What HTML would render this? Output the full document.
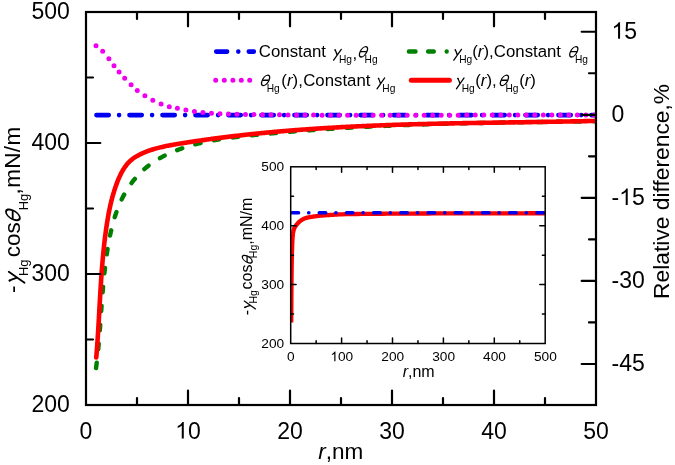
<!DOCTYPE html>
<html><head><meta charset="utf-8"><style>
html,body{margin:0;padding:0;background:#fff;width:675px;height:465px;overflow:hidden}
svg{display:block;will-change:transform}
text{font-family:"Liberation Sans",sans-serif}
</style></head><body>
<svg width="675" height="465" viewBox="0 0 675 465">
<defs><clipPath id="cm"><rect x="86.0" y="12.0" width="510.0" height="393.0"/></clipPath>
<clipPath id="ci"><rect x="290.7" y="166.8" width="254.5" height="176.7"/></clipPath></defs>
<rect width="675" height="465" fill="#fff"/>
<g clip-path="url(#cm)" fill="none" stroke-linecap="round" stroke-linejoin="round">
<path d="M96.45,115.10 H596" stroke="#0000f0" stroke-width="4.6" stroke-dasharray="12.3 10.35 0 10.35"/>
<path d="M96.00,45.70h0M102.70,51.30h0M108.90,58.70h0M114.00,65.70h0M119.10,72.00h0M124.70,78.30h0M131.10,84.70h0M137.30,90.40h0M144.90,95.70h0M152.80,100.20h0M161.10,104.00h0M169.30,106.70h0M177.40,108.32h0M185.91,110.11h0M194.42,111.49h0M202.93,112.52h0M211.44,113.25h0M219.95,113.76h0M228.46,114.08h0M236.97,114.28h0M245.48,114.42h0M253.99,114.54h0M262.50,114.65h0M271.01,114.75h0M279.52,114.84h0M288.03,114.92h0M296.54,114.98h0M305.05,115.04h0M313.56,115.09h0M322.07,115.14h0M330.58,115.17h0M339.09,115.20h0M347.60,115.23h0M356.11,115.24h0M364.62,115.25h0M373.13,115.26h0M381.64,115.26h0M390.15,115.26h0M398.66,115.25h0M407.17,115.24h0M415.68,115.23h0M424.19,115.21h0M432.70,115.20h0M441.21,115.18h0M449.72,115.16h0M458.23,115.14h0M466.74,115.12h0M475.25,115.10h0M483.76,115.08h0M492.27,115.06h0M500.78,115.04h0M509.29,115.03h0M517.80,115.02h0M526.31,115.01h0M534.82,115.00h0M543.33,115.00h0M551.84,115.01h0M560.35,115.01h0M568.86,115.03h0M577.37,115.05h0M585.88,115.07h0M594.39,115.10h0" stroke="#f000f0" stroke-width="5"/>
<path d="M96.03,368.11 L96.16,367.11 L96.29,366.12 L96.42,365.12 L96.55,364.13 L96.67,363.13 L96.80,362.14 L96.92,361.14 L97.03,360.15 L97.15,359.15 L97.26,358.16 L97.37,357.17 L97.48,356.17 L97.59,355.18 L97.70,354.19 L97.80,353.19 L97.91,352.20 L98.01,351.21 L98.11,350.21 L98.21,349.22 L98.30,348.23 L98.40,347.24 L98.49,346.24 L98.59,345.25 L98.68,344.26 L98.77,343.27 L98.85,342.27 L98.94,341.28 L99.03,340.29 L99.11,339.30 L99.20,338.31 L99.28,337.32 L99.36,336.32 L99.44,335.33 L99.52,334.34 L99.60,333.35 L99.68,332.36 L99.76,331.37 L99.83,330.38 L99.91,329.38 L99.98,328.39 L100.06,327.40 L100.13,326.41 L100.21,325.42 L100.28,324.43 L100.35,323.44 L100.42,322.45 L100.50,321.45 L100.57,320.46 L100.64,319.47 L100.71,318.48 L100.78,317.49 L100.85,316.50 L100.92,315.51 L100.99,314.51 L101.06,313.52 L101.13,312.53 L101.20,311.54 L101.27,310.55 L101.34,309.56 L101.41,308.56 L101.49,307.57 L101.56,306.58 L101.63,305.59 L101.70,304.60 L101.77,303.60 L101.85,302.61 L101.92,301.62 L101.99,300.63 L102.07,299.63 L102.14,298.64 L102.22,297.65 L102.30,296.65 L102.37,295.66 L102.45,294.67 L102.53,293.67 L102.61,292.68 L102.69,291.68 L102.77,290.69 L102.85,289.70 L102.94,288.70 L103.02,287.71 L103.11,286.71 L103.20,285.72 L103.28,284.72 L103.37,283.73 L103.46,282.73 L103.56,281.73 L103.65,280.74 L103.74,279.74 L103.84,278.74 L103.94,277.75 L104.04,276.75 L104.14,275.75 L104.24,274.76 L104.35,273.76 L104.45,272.76 L104.56,271.76 L104.67,270.76 L104.78,269.76 L104.90,268.76 L105.01,267.76 L105.13,266.76 L105.25,265.76 L105.37,264.76 L105.49,263.76 L105.62,262.76 L105.75,261.76 L105.88,260.76 L106.01,259.76 L106.14,258.75 L106.28,257.75 L106.42,256.75 L106.56,255.74 L106.71,254.74 L106.86,253.74 L107.00,252.73 L107.16,251.73 L107.31,250.72 L107.47,249.71 L107.63,248.71 L107.79,247.70 L107.96,246.70 L108.13,245.69 L108.30,244.68 L108.48,243.68 L108.66,242.67 L108.84,241.67 L109.03,240.66 L109.22,239.66 L109.41,238.65 L109.61,237.65 L109.81,236.65 L110.02,235.65 L110.23,234.65 L110.44,233.65 L110.66,232.65 L110.88,231.66 L111.11,230.66 L111.34,229.67 L111.58,228.68 L111.82,227.69 L112.07,226.70 L112.32,225.71 L112.57,224.73 L112.83,223.75 L113.10,222.77 L113.37,221.79 L113.65,220.81 L113.93,219.84 L114.22,218.87 L114.52,217.90 L114.82,216.94 L115.12,215.98 L115.44,215.02 L115.75,214.06 L116.08,213.11 L116.41,212.16 L116.75,211.21 L117.09,210.27 L117.44,209.33 L117.80,208.40 L118.16,207.46 L118.53,206.54 L118.91,205.61 L119.30,204.69 L119.69,203.78 L120.09,202.86 L120.49,201.96 L120.91,201.05 L121.33,200.15 L121.76,199.26 L122.19,198.37 L122.64,197.48 L123.09,196.60 L123.55,195.73 L124.02,194.86 L124.50,193.99 L124.98,193.13 L125.47,192.28 L125.97,191.43 L126.48,190.59 L127.00,189.75 L127.52,188.92 L128.05,188.09 L128.59,187.27 L129.14,186.46 L129.69,185.65 L130.26,184.85 L130.83,184.05 L131.40,183.26 L131.99,182.48 L132.58,181.70 L133.18,180.93 L133.79,180.17 L134.41,179.41 L135.03,178.66 L135.66,177.92 L136.30,177.18 L136.95,176.46 L137.60,175.73 L138.26,175.02 L138.93,174.32 L139.61,173.62 L140.29,172.93 L140.98,172.24 L141.68,171.57 L142.38,170.90 L143.10,170.24 L143.82,169.59 L144.54,168.95 L145.28,168.32 L146.02,167.69 L146.77,167.07 L147.53,166.46 L148.29,165.86 L149.06,165.27 L149.84,164.69 L150.62,164.11 L151.41,163.54 L152.21,162.98 L153.01,162.43 L153.82,161.89 L154.63,161.35 L155.46,160.83 L156.28,160.31 L157.12,159.79 L157.95,159.29 L158.80,158.79 L159.65,158.30 L160.50,157.82 L161.36,157.34 L162.23,156.87 L163.10,156.41 L163.98,155.96 L164.86,155.51 L165.74,155.07 L166.63,154.63 L167.53,154.21 L168.42,153.79 L169.33,153.37 L170.23,152.97 L171.14,152.57 L172.06,152.17 L172.98,151.79 L173.90,151.41 L174.83,151.03 L175.76,150.66 L176.69,150.30 L177.62,149.94 L178.56,149.59 L179.51,149.25 L180.45,148.91 L181.40,148.57 L182.35,148.25 L183.30,147.92 L184.26,147.61 L185.22,147.30 L186.18,146.99 L187.14,146.69 L188.11,146.40 L189.07,146.11 L190.04,145.82 L191.01,145.54 L191.98,145.27 L192.96,145.00 L193.93,144.73 L194.91,144.47 L195.88,144.22 L196.86,143.97 L197.84,143.72 L198.82,143.48 L199.80,143.24 L200.79,143.01 L201.77,142.78 L202.75,142.56 L203.74,142.34 L204.72,142.12 L205.71,141.91 L206.69,141.70 L207.68,141.50 L208.67,141.30 L209.66,141.10 L210.65,140.91 L211.64,140.72 L212.63,140.53 L213.62,140.35 L214.61,140.17 L215.60,140.00 L216.59,139.82 L217.59,139.65 L218.58,139.49 L219.58,139.32 L220.57,139.16 L221.57,139.01 L222.56,138.85 L223.56,138.70 L224.55,138.55 L225.55,138.41 L226.55,138.26 L227.55,138.12 L228.55,137.98 L229.54,137.85 L230.54,137.71 L231.54,137.58 L232.54,137.45 L233.54,137.32 L234.54,137.20 L235.54,137.08 L236.54,136.95 L237.54,136.83 L238.54,136.72 L239.55,136.60 L240.55,136.48 L241.55,136.37 L242.55,136.26 L243.55,136.15 L244.55,136.04 L245.56,135.93 L246.56,135.82 L247.56,135.72 L248.56,135.61 L249.56,135.51 L250.57,135.41 L251.57,135.31 L252.57,135.20 L253.57,135.10 L254.58,135.00 L255.58,134.90 L256.58,134.81 L257.58,134.71 L258.58,134.61 L259.58,134.51 L260.59,134.42 L261.59,134.32 L262.59,134.22 L263.59,134.13 L264.59,134.03 L265.59,133.94 L266.59,133.85 L267.59,133.75 L268.59,133.66 L269.60,133.57 L270.60,133.48 L271.60,133.39 L272.60,133.30 L273.60,133.21 L274.60,133.12 L275.60,133.03 L276.60,132.94 L277.60,132.85 L278.60,132.76 L279.60,132.68 L280.60,132.59 L281.60,132.50 L282.60,132.42 L283.60,132.33 L284.60,132.25 L285.60,132.16 L286.60,132.08 L287.60,132.00 L288.60,131.91 L289.60,131.83 L290.60,131.75 L291.59,131.67 L292.59,131.59 L293.59,131.51 L294.59,131.43 L295.59,131.35 L296.59,131.27 L297.59,131.19 L298.59,131.11 L299.59,131.04 L300.58,130.96 L301.58,130.88 L302.58,130.81 L303.58,130.73 L304.58,130.65 L305.58,130.58 L306.58,130.51 L307.57,130.43 L308.57,130.36 L309.57,130.28 L310.57,130.21 L311.57,130.14 L312.56,130.07 L313.56,130.00 L314.56,129.93 L315.56,129.86 L316.56,129.79 L317.55,129.72 L318.55,129.65 L319.55,129.58 L320.55,129.51 L321.54,129.44 L322.54,129.37 L323.54,129.31 L324.54,129.24 L325.53,129.17 L326.53,129.11 L327.53,129.04 L328.53,128.98 L329.52,128.91 L330.52,128.85 L331.52,128.79 L332.51,128.72 L333.51,128.66 L334.51,128.60 L335.51,128.54 L336.50,128.47 L337.50,128.41 L338.50,128.35 L339.49,128.29 L340.49,128.23 L341.49,128.17 L342.48,128.11 L343.48,128.05 L344.48,127.99 L345.47,127.94 L346.47,127.88 L347.47,127.82 L348.46,127.76 L349.46,127.71 L350.46,127.65 L351.45,127.60 L352.45,127.54 L353.44,127.48 L354.44,127.43 L355.44,127.38 L356.43,127.32 L357.43,127.27 L358.43,127.21 L359.42,127.16 L360.42,127.11 L361.41,127.06 L362.41,127.00 L363.41,126.95 L364.40,126.90 L365.40,126.85 L366.40,126.80 L367.39,126.75 L368.39,126.70 L369.38,126.65 L370.38,126.60 L371.38,126.55 L372.37,126.51 L373.37,126.46 L374.36,126.41 L375.36,126.36 L376.36,126.32 L377.35,126.27 L378.35,126.22 L379.34,126.18 L380.34,126.13 L381.33,126.09 L382.33,126.04 L383.33,126.00 L384.32,125.95 L385.32,125.91 L386.31,125.87 L387.31,125.82 L388.31,125.78 L389.30,125.74 L390.30,125.69 L391.29,125.65 L392.29,125.61 L393.28,125.57 L394.28,125.53 L395.28,125.49 L396.27,125.45 L397.27,125.41 L398.26,125.37 L399.26,125.33 L400.25,125.29 L401.25,125.25 L402.25,125.21 L403.24,125.17 L404.24,125.13 L405.23,125.09 L406.23,125.06 L407.22,125.02 L408.22,124.98 L409.22,124.95 L410.21,124.91 L411.21,124.87 L412.20,124.84 L413.20,124.80 L414.20,124.77 L415.19,124.73 L416.19,124.70 L417.18,124.66 L418.18,124.63 L419.17,124.60 L420.17,124.56 L421.17,124.53 L422.16,124.50 L423.16,124.46 L424.15,124.43 L425.15,124.40 L426.15,124.37 L427.14,124.33 L428.14,124.30 L429.13,124.27 L430.13,124.24 L431.13,124.21 L432.12,124.18 L433.12,124.15 L434.11,124.12 L435.11,124.09 L436.11,124.06 L437.10,124.03 L438.10,124.00 L439.10,123.97 L440.09,123.94 L441.09,123.92 L442.08,123.89 L443.08,123.86 L444.08,123.83 L445.07,123.80 L446.07,123.78 L447.07,123.75 L448.06,123.72 L449.06,123.70 L450.06,123.67 L451.05,123.65 L452.05,123.62 L453.05,123.59 L454.04,123.57 L455.04,123.54 L456.04,123.52 L457.03,123.49 L458.03,123.47 L459.03,123.44 L460.02,123.42 L461.02,123.40 L462.02,123.37 L463.01,123.35 L464.01,123.33 L465.01,123.30 L466.01,123.28 L467.00,123.26 L468.00,123.23 L469.00,123.21 L469.99,123.19 L470.99,123.17 L471.99,123.15 L472.99,123.12 L473.98,123.10 L474.98,123.08 L475.98,123.06 L476.98,123.04 L477.97,123.02 L478.97,123.00 L479.97,122.98 L480.97,122.96 L481.97,122.94 L482.96,122.92 L483.96,122.90 L484.96,122.88 L485.96,122.86 L486.96,122.84 L487.95,122.82 L488.95,122.80 L489.95,122.79 L490.95,122.77 L491.95,122.75 L492.94,122.73 L493.94,122.71 L494.94,122.69 L495.94,122.68 L496.94,122.66 L497.94,122.64 L498.94,122.62 L499.94,122.61 L500.93,122.59 L501.93,122.57 L502.93,122.56 L503.93,122.54 L504.93,122.52 L505.93,122.51 L506.93,122.49 L507.93,122.48 L508.93,122.46 L509.93,122.44 L510.93,122.43 L511.93,122.41 L512.93,122.40 L513.93,122.38 L514.93,122.37 L515.93,122.35 L516.93,122.34 L517.93,122.32 L518.93,122.31 L519.93,122.29 L520.93,122.28 L521.93,122.26 L522.93,122.25 L523.93,122.24 L524.93,122.22 L525.93,122.21 L526.93,122.19 L527.93,122.18 L528.93,122.17 L529.93,122.15 L530.93,122.14 L531.93,122.13 L532.93,122.11 L533.94,122.10 L534.94,122.09 L535.94,122.07 L536.94,122.06 L537.94,122.05 L538.94,122.03 L539.94,122.02 L540.95,122.01 L541.95,122.00 L542.95,121.98 L543.95,121.97 L544.95,121.96 L545.96,121.95 L546.96,121.94 L547.96,121.92 L548.96,121.91 L549.97,121.90 L550.97,121.89 L551.97,121.88 L552.98,121.86 L553.98,121.85 L554.98,121.84 L555.98,121.83 L556.99,121.82 L557.99,121.81 L558.99,121.80 L560.00,121.78 L561.00,121.77 L562.01,121.76 L563.01,121.75 L564.01,121.74 L565.02,121.73 L566.02,121.72 L567.03,121.71 L568.03,121.69 L569.03,121.68 L570.04,121.67 L571.04,121.66 L572.05,121.65 L573.05,121.64 L574.06,121.63 L575.06,121.62 L576.07,121.61 L577.07,121.60 L578.08,121.59 L579.08,121.58 L580.09,121.56 L581.10,121.55 L582.10,121.54 L583.11,121.53 L584.11,121.52 L585.12,121.51 L586.13,121.50 L587.13,121.49 L588.14,121.48 L589.14,121.47 L590.15,121.46 L591.16,121.45 L592.17,121.44 L593.17,121.43 L594.18,121.42 L595.19,121.41 L596.07,121.40" stroke="#008000" stroke-width="4.4" stroke-dasharray="5.4 13.65"/>
<path d="M96.26,357.50 L96.35,356.51 L96.43,355.53 L96.51,354.55 L96.59,353.56 L96.67,352.57 L96.75,351.59 L96.82,350.60 L96.90,349.61 L96.97,348.62 L97.05,347.63 L97.12,346.64 L97.19,345.65 L97.26,344.66 L97.33,343.67 L97.40,342.68 L97.47,341.69 L97.53,340.69 L97.60,339.70 L97.67,338.71 L97.73,337.71 L97.80,336.72 L97.86,335.72 L97.92,334.73 L97.99,333.73 L98.05,332.74 L98.11,331.74 L98.17,330.74 L98.23,329.75 L98.29,328.75 L98.35,327.75 L98.41,326.75 L98.47,325.75 L98.53,324.75 L98.59,323.76 L98.64,322.76 L98.70,321.76 L98.76,320.76 L98.82,319.76 L98.87,318.76 L98.93,317.75 L98.98,316.75 L99.04,315.75 L99.10,314.75 L99.15,313.75 L99.21,312.75 L99.26,311.75 L99.32,310.74 L99.37,309.74 L99.43,308.74 L99.49,307.74 L99.54,306.73 L99.60,305.73 L99.65,304.73 L99.71,303.73 L99.77,302.72 L99.82,301.72 L99.88,300.72 L99.94,299.71 L99.99,298.71 L100.05,297.71 L100.11,296.71 L100.17,295.70 L100.22,294.70 L100.28,293.70 L100.34,292.69 L100.40,291.69 L100.46,290.69 L100.52,289.68 L100.58,288.68 L100.65,287.68 L100.71,286.68 L100.77,285.67 L100.83,284.67 L100.90,283.67 L100.96,282.67 L101.03,281.67 L101.10,280.66 L101.16,279.66 L101.23,278.66 L101.30,277.66 L101.37,276.66 L101.44,275.66 L101.51,274.66 L101.58,273.66 L101.65,272.66 L101.73,271.66 L101.80,270.66 L101.88,269.66 L101.95,268.66 L102.03,267.66 L102.11,266.66 L102.19,265.66 L102.27,264.67 L102.35,263.67 L102.44,262.67 L102.52,261.67 L102.61,260.68 L102.69,259.68 L102.78,258.69 L102.87,257.69 L102.96,256.70 L103.06,255.70 L103.15,254.71 L103.24,253.71 L103.34,252.72 L103.44,251.73 L103.54,250.74 L103.64,249.75 L103.74,248.75 L103.84,247.76 L103.95,246.77 L104.06,245.78 L104.16,244.79 L104.28,243.81 L104.39,242.82 L104.50,241.83 L104.62,240.84 L104.73,239.86 L104.85,238.87 L104.97,237.89 L105.09,236.90 L105.22,235.92 L105.34,234.94 L105.47,233.95 L105.60,232.97 L105.73,231.99 L105.87,231.01 L106.00,230.03 L106.14,229.05 L106.28,228.07 L106.42,227.10 L106.57,226.12 L106.71,225.14 L106.86,224.17 L107.01,223.20 L107.16,222.22 L107.32,221.25 L107.48,220.28 L107.64,219.30 L107.80,218.33 L107.97,217.36 L108.14,216.39 L108.31,215.42 L108.49,214.45 L108.67,213.48 L108.85,212.51 L109.04,211.54 L109.23,210.57 L109.43,209.60 L109.63,208.63 L109.83,207.66 L110.04,206.69 L110.26,205.72 L110.48,204.75 L110.70,203.77 L110.93,202.80 L111.17,201.83 L111.41,200.85 L111.66,199.88 L111.91,198.91 L112.17,197.93 L112.43,196.95 L112.71,195.97 L112.98,195.00 L113.27,194.02 L113.56,193.03 L113.86,192.05 L114.16,191.07 L114.48,190.08 L114.80,189.10 L115.12,188.11 L115.46,187.12 L115.80,186.13 L116.15,185.14 L116.51,184.15 L116.88,183.16 L117.26,182.18 L117.64,181.19 L118.03,180.21 L118.43,179.24 L118.85,178.27 L119.27,177.31 L119.70,176.36 L120.14,175.42 L120.58,174.49 L121.04,173.57 L121.51,172.66 L121.99,171.77 L122.48,170.89 L122.98,170.03 L123.49,169.19 L124.01,168.37 L124.54,167.57 L125.08,166.78 L125.64,166.02 L126.21,165.27 L126.79,164.55 L127.39,163.84 L128.01,163.14 L128.64,162.47 L129.29,161.81 L129.95,161.17 L130.64,160.55 L131.35,159.94 L132.07,159.35 L132.82,158.78 L133.59,158.21 L134.38,157.67 L135.18,157.14 L136.00,156.62 L136.84,156.12 L137.70,155.64 L138.57,155.16 L139.45,154.70 L140.34,154.25 L141.25,153.82 L142.16,153.40 L143.08,152.99 L144.01,152.59 L144.95,152.20 L145.88,151.83 L146.83,151.47 L147.77,151.11 L148.72,150.77 L149.67,150.44 L150.62,150.12 L151.58,149.80 L152.54,149.50 L153.50,149.21 L154.46,148.92 L155.42,148.64 L156.39,148.37 L157.36,148.11 L158.33,147.86 L159.30,147.61 L160.27,147.37 L161.25,147.14 L162.23,146.91 L163.20,146.69 L164.18,146.48 L165.16,146.27 L166.15,146.07 L167.13,145.87 L168.11,145.67 L169.10,145.49 L170.08,145.30 L171.07,145.12 L172.06,144.94 L173.05,144.76 L174.04,144.59 L175.03,144.42 L176.02,144.26 L177.01,144.09 L178.00,143.93 L178.99,143.76 L179.98,143.60 L180.97,143.44 L181.96,143.28 L182.95,143.13 L183.94,142.97 L184.93,142.81 L185.93,142.66 L186.92,142.50 L187.91,142.35 L188.90,142.19 L189.89,142.04 L190.88,141.89 L191.87,141.74 L192.87,141.59 L193.86,141.44 L194.85,141.29 L195.84,141.15 L196.83,141.00 L197.82,140.85 L198.82,140.71 L199.81,140.57 L200.80,140.42 L201.79,140.28 L202.79,140.14 L203.78,140.00 L204.77,139.86 L205.76,139.72 L206.75,139.58 L207.75,139.44 L208.74,139.31 L209.73,139.17 L210.72,139.04 L211.72,138.90 L212.71,138.77 L213.70,138.63 L214.70,138.50 L215.69,138.37 L216.68,138.24 L217.67,138.11 L218.67,137.98 L219.66,137.85 L220.65,137.73 L221.65,137.60 L222.64,137.47 L223.63,137.35 L224.63,137.23 L225.62,137.10 L226.61,136.98 L227.61,136.86 L228.60,136.74 L229.59,136.61 L230.59,136.49 L231.58,136.38 L232.57,136.26 L233.57,136.14 L234.56,136.02 L235.56,135.91 L236.55,135.79 L237.54,135.68 L238.54,135.56 L239.53,135.45 L240.53,135.34 L241.52,135.22 L242.51,135.11 L243.51,135.00 L244.50,134.89 L245.50,134.78 L246.49,134.68 L247.49,134.57 L248.48,134.46 L249.48,134.35 L250.47,134.25 L251.46,134.14 L252.46,134.04 L253.45,133.94 L254.45,133.83 L255.44,133.73 L256.44,133.63 L257.43,133.53 L258.43,133.43 L259.42,133.33 L260.42,133.23 L261.41,133.13 L262.41,133.03 L263.40,132.94 L264.40,132.84 L265.39,132.74 L266.39,132.65 L267.38,132.55 L268.38,132.46 L269.37,132.37 L270.37,132.28 L271.37,132.18 L272.36,132.09 L273.36,132.00 L274.35,131.91 L275.35,131.82 L276.34,131.73 L277.34,131.65 L278.33,131.56 L279.33,131.47 L280.33,131.39 L281.32,131.30 L282.32,131.21 L283.31,131.13 L284.31,131.05 L285.31,130.96 L286.30,130.88 L287.30,130.80 L288.29,130.72 L289.29,130.64 L290.29,130.56 L291.28,130.48 L292.28,130.40 L293.28,130.32 L294.27,130.24 L295.27,130.16 L296.26,130.09 L297.26,130.01 L298.26,129.93 L299.25,129.86 L300.25,129.78 L301.25,129.71 L302.24,129.64 L303.24,129.56 L304.24,129.49 L305.23,129.42 L306.23,129.35 L307.23,129.28 L308.22,129.21 L309.22,129.14 L310.22,129.07 L311.21,129.00 L312.21,128.93 L313.21,128.86 L314.21,128.80 L315.20,128.73 L316.20,128.66 L317.20,128.60 L318.19,128.53 L319.19,128.47 L320.19,128.41 L321.19,128.34 L322.18,128.28 L323.18,128.22 L324.18,128.15 L325.18,128.09 L326.17,128.03 L327.17,127.97 L328.17,127.91 L329.17,127.85 L330.16,127.79 L331.16,127.73 L332.16,127.68 L333.16,127.62 L334.15,127.56 L335.15,127.50 L336.15,127.45 L337.15,127.39 L338.14,127.34 L339.14,127.28 L340.14,127.23 L341.14,127.17 L342.14,127.12 L343.13,127.07 L344.13,127.01 L345.13,126.96 L346.13,126.91 L347.13,126.86 L348.12,126.81 L349.12,126.76 L350.12,126.71 L351.12,126.66 L352.12,126.61 L353.12,126.56 L354.11,126.51 L355.11,126.46 L356.11,126.42 L357.11,126.37 L358.11,126.32 L359.10,126.28 L360.10,126.23 L361.10,126.18 L362.10,126.14 L363.10,126.09 L364.10,126.05 L365.10,126.01 L366.09,125.96 L367.09,125.92 L368.09,125.88 L369.09,125.83 L370.09,125.79 L371.09,125.75 L372.09,125.71 L373.08,125.67 L374.08,125.63 L375.08,125.59 L376.08,125.55 L377.08,125.51 L378.08,125.47 L379.08,125.43 L380.08,125.39 L381.08,125.35 L382.07,125.32 L383.07,125.28 L384.07,125.24 L385.07,125.21 L386.07,125.17 L387.07,125.13 L388.07,125.10 L389.07,125.06 L390.07,125.03 L391.07,124.99 L392.06,124.96 L393.06,124.92 L394.06,124.89 L395.06,124.86 L396.06,124.82 L397.06,124.79 L398.06,124.76 L399.06,124.73 L400.06,124.69 L401.06,124.66 L402.06,124.63 L403.06,124.60 L404.06,124.57 L405.05,124.54 L406.05,124.51 L407.05,124.48 L408.05,124.45 L409.05,124.42 L410.05,124.39 L411.05,124.36 L412.05,124.33 L413.05,124.30 L414.05,124.28 L415.05,124.25 L416.05,124.22 L417.05,124.19 L418.05,124.17 L419.05,124.14 L420.05,124.11 L421.05,124.09 L422.05,124.06 L423.05,124.04 L424.05,124.01 L425.05,123.98 L426.05,123.96 L427.04,123.93 L428.04,123.91 L429.04,123.89 L430.04,123.86 L431.04,123.84 L432.04,123.81 L433.04,123.79 L434.04,123.77 L435.04,123.74 L436.04,123.72 L437.04,123.70 L438.04,123.67 L439.04,123.65 L440.04,123.63 L441.04,123.61 L442.04,123.59 L443.04,123.57 L444.04,123.54 L445.04,123.52 L446.04,123.50 L447.04,123.48 L448.04,123.46 L449.04,123.44 L450.04,123.42 L451.04,123.40 L452.04,123.38 L453.04,123.36 L454.04,123.34 L455.04,123.32 L456.04,123.30 L457.04,123.28 L458.04,123.26 L459.04,123.24 L460.04,123.22 L461.04,123.21 L462.04,123.19 L463.04,123.17 L464.04,123.15 L465.04,123.13 L466.04,123.11 L467.04,123.10 L468.04,123.08 L469.04,123.06 L470.04,123.04 L471.04,123.03 L472.04,123.01 L473.04,122.99 L474.04,122.97 L475.04,122.96 L476.04,122.94 L477.04,122.92 L478.04,122.91 L479.04,122.89 L480.04,122.87 L481.04,122.86 L482.04,122.84 L483.04,122.83 L484.04,122.81 L485.05,122.79 L486.05,122.78 L487.05,122.76 L488.05,122.75 L489.05,122.73 L490.05,122.71 L491.05,122.70 L492.05,122.68 L493.05,122.67 L494.05,122.65 L495.05,122.64 L496.05,122.62 L497.05,122.61 L498.05,122.59 L499.05,122.57 L500.05,122.56 L501.05,122.54 L502.05,122.53 L503.05,122.51 L504.05,122.50 L505.05,122.48 L506.05,122.47 L507.05,122.45 L508.05,122.44 L509.05,122.42 L510.05,122.41 L511.05,122.39 L512.05,122.38 L513.05,122.36 L514.05,122.35 L515.05,122.33 L516.05,122.32 L517.05,122.30 L518.05,122.29 L519.05,122.27 L520.05,122.26 L521.05,122.24 L522.05,122.23 L523.05,122.21 L524.05,122.20 L525.05,122.18 L526.05,122.17 L527.05,122.15 L528.05,122.14 L529.05,122.12 L530.05,122.11 L531.05,122.09 L532.05,122.08 L533.06,122.06 L534.06,122.05 L535.06,122.03 L536.06,122.02 L537.06,122.00 L538.06,121.98 L539.06,121.97 L540.06,121.95 L541.06,121.94 L542.06,121.92 L543.06,121.91 L544.06,121.89 L545.06,121.87 L546.06,121.86 L547.06,121.84 L548.06,121.82 L549.06,121.81 L550.06,121.79 L551.06,121.77 L552.06,121.76 L553.06,121.74 L554.06,121.72 L555.06,121.71 L556.06,121.69 L557.06,121.67 L558.06,121.66 L559.06,121.64 L560.06,121.62 L561.06,121.60 L562.06,121.58 L563.06,121.57 L564.06,121.55 L565.06,121.53 L566.06,121.51 L567.06,121.49 L568.06,121.48 L569.06,121.46 L570.06,121.44 L571.06,121.42 L572.06,121.40 L573.06,121.38 L574.05,121.36 L575.05,121.34 L576.05,121.32 L577.05,121.30 L578.05,121.28 L579.05,121.26 L580.05,121.24 L581.05,121.22 L582.05,121.20 L583.05,121.18 L584.05,121.16 L585.05,121.14 L586.05,121.11 L587.05,121.09 L588.05,121.07 L589.05,121.05 L590.05,121.03 L591.05,121.00 L592.05,120.98 L593.05,120.96 L594.05,120.93 L595.00,120.91" stroke="#ff0000" stroke-width="4.6" stroke-linecap="round"/>
</g>
<g stroke="#000" stroke-width="2.2" fill="none">
<rect x="86.0" y="12.0" width="510.0" height="393.0"/>
<path d="M137.00,405.00v-7.00 M137.00,12.00v7.00 M188.00,405.00v-14.30 M188.00,12.00v14.30 M239.00,405.00v-7.00 M239.00,12.00v7.00 M290.00,405.00v-14.30 M290.00,12.00v14.30 M341.00,405.00v-7.00 M341.00,12.00v7.00 M392.00,405.00v-14.30 M392.00,12.00v14.30 M443.00,405.00v-7.00 M443.00,12.00v7.00 M494.00,405.00v-14.30 M494.00,12.00v14.30 M545.00,405.00v-7.00 M545.00,12.00v7.00 M86.00,339.50h7.00 M86.00,274.00h14.30 M86.00,208.50h7.00 M86.00,143.00h14.30 M86.00,77.50h7.00 M596.00,31.73h-14.30 M596.00,73.27h-7.00 M596.00,114.80h-14.30 M596.00,156.33h-7.00 M596.00,197.87h-14.30 M596.00,239.40h-7.00 M596.00,280.94h-14.30 M596.00,322.47h-7.00 M596.00,364.01h-14.30" stroke-linecap="round"/>
</g>
<g font-family="Liberation Sans" font-size="23" fill="#000">
<text x="31.43" y="412.10" font-size="23.00">200</text>
<text x="31.43" y="281.10" font-size="23.00">300</text>
<text x="31.43" y="150.10" font-size="23.00">400</text>
<text x="31.43" y="19.10" font-size="23.00">500</text>
<text x="79.60" y="438.50" font-size="23.00">0</text>
<path transform="translate(175.21,438.50) scale(0.01123,-0.01123)" d="M763 0H583V1147Q518 1085 412 1023Q306 961 222 930V1104Q373 1175 486 1276Q599 1377 646 1466H763Z"/><text x="188.00" y="438.50" font-size="23.00">0</text>
<text x="277.21" y="438.50" font-size="23.00">20</text>
<text x="379.21" y="438.50" font-size="23.00">30</text>
<text x="481.21" y="438.50" font-size="23.00">40</text>
<text x="583.21" y="438.50" font-size="23.00">50</text>
<path transform="translate(611.50,38.83) scale(0.01123,-0.01123)" d="M763 0H583V1147Q518 1085 412 1023Q306 961 222 930V1104Q373 1175 486 1276Q599 1377 646 1466H763Z"/><text x="624.29" y="38.83" font-size="23.00">5</text>
<text x="611.50" y="121.90" font-size="23.00">0</text>
<text x="611.50" y="204.97" font-size="23.00">-</text><path transform="translate(619.16,204.97) scale(0.01123,-0.01123)" d="M763 0H583V1147Q518 1085 412 1023Q306 961 222 930V1104Q373 1175 486 1276Q599 1377 646 1466H763Z"/><text x="631.95" y="204.97" font-size="23.00">5</text>
<text x="611.50" y="288.04" font-size="23.00">-30</text>
<text x="611.50" y="371.11" font-size="23.00">-45</text>
</g>
<text x="318.3" y="458.8" font-family="Liberation Sans" font-size="22.5"><tspan font-style="italic">r</tspan>,nm</text>
<text transform="translate(669.4,298.9) rotate(-90)" font-family="Liberation Sans" font-size="22.8">Relative difference,%</text>
<g transform="translate(20.00,293.00) rotate(-90)" font-family="Liberation Sans" fill="#000"><text x="0.00" y="0.00" font-size="22.50">-</text><g transform="translate(9.62,0.00) scale(22.500,22.500)"><path d="M0.52,-0.50 L0.03,0.20 M0.125,-0.46 C0.17,-0.38 0.22,-0.24 0.255,-0.12" fill="none" stroke="#000" stroke-width="0.080" stroke-linecap="round"/><circle cx="0.125" cy="-0.46" r="0.05" fill="#000"/></g><text x="16.93" y="7.50" font-size="13.00">Hg</text><text x="35.84" y="0.00" font-size="22.50">cos</text><g transform="translate(70.65,0.00) scale(22.500,22.500) skewX(-23)" fill="none" stroke="#000" stroke-width="0.080"><ellipse cx="0.2" cy="-0.315" rx="0.2" ry="0.31"/><path d="M0.02,-0.325H0.38"/></g><text x="82.73" y="7.50" font-size="13.00">Hg</text><text x="98.58" y="0.00" font-size="22.50" letter-spacing="0.35">,mN/m</text></g>
<g fill="none" stroke-linecap="round">
<path d="M216.2,51.6H227.1M238.3,51.6h0M248.8,51.6H253.8" stroke="#0000f0" stroke-width="4.6"/>
<path d="M215.7,80.3h0M224.3,80.3h0M232.9,80.3h0M241.3,80.3h0M249.7,80.3h0" stroke="#f000f0" stroke-width="5"/>
<path d="M408.9,51.5H415.5M428.1,51.5H433.8M446.7,51.5h0" stroke="#008000" stroke-width="4.4"/>
<path d="M411.3,80.35H449.4" stroke="#ff0000" stroke-width="5"/>
</g>
<g transform="translate(0.00,57.10)" font-family="Liberation Sans" fill="#000"><text x="258.85" y="0.00" font-size="16.80">Constant</text><g transform="translate(333.16,0.00) scale(15.600,15.600)"><path d="M0.52,-0.50 L0.03,0.20 M0.125,-0.46 C0.17,-0.38 0.22,-0.24 0.255,-0.12" fill="none" stroke="#000" stroke-width="0.080" stroke-linecap="round"/><circle cx="0.125" cy="-0.46" r="0.05" fill="#000"/></g><text x="338.93" y="6.30" font-size="10.20">Hg</text><text x="352.49" y="2.30" font-size="16.80">,</text><g transform="translate(357.89,0.00) scale(16.800,16.800) skewX(-23)" fill="none" stroke="#000" stroke-width="0.080"><ellipse cx="0.2" cy="-0.315" rx="0.2" ry="0.31"/><path d="M0.02,-0.325H0.38"/></g><text x="364.61" y="6.30" font-size="10.20">Hg</text></g>
<g transform="translate(0.00,85.70)" font-family="Liberation Sans" fill="#000"><g transform="translate(259.99,0.00) scale(16.800,16.800) skewX(-23)" fill="none" stroke="#000" stroke-width="0.080"><ellipse cx="0.2" cy="-0.315" rx="0.2" ry="0.31"/><path d="M0.02,-0.325H0.38"/></g><text x="266.71" y="6.30" font-size="10.20">Hg</text><text x="281.36" y="0.00" font-size="16.80">(</text><text x="286.95" y="0.00" font-size="16.80" font-style="italic">r</text><text x="292.55" y="0.00" font-size="16.80">)</text><text x="298.14" y="0.00" font-size="16.80">,</text><text x="303.25" y="0.00" font-size="16.80">Constant</text><g transform="translate(376.56,0.00) scale(15.600,15.600)"><path d="M0.52,-0.50 L0.03,0.20 M0.125,-0.46 C0.17,-0.38 0.22,-0.24 0.255,-0.12" fill="none" stroke="#000" stroke-width="0.080" stroke-linecap="round"/><circle cx="0.125" cy="-0.46" r="0.05" fill="#000"/></g><text x="382.33" y="6.30" font-size="10.20">Hg</text></g>
<g transform="translate(0.00,57.10)" font-family="Liberation Sans" fill="#000"><g transform="translate(453.36,0.00) scale(15.600,15.600)"><path d="M0.52,-0.50 L0.03,0.20 M0.125,-0.46 C0.17,-0.38 0.22,-0.24 0.255,-0.12" fill="none" stroke="#000" stroke-width="0.080" stroke-linecap="round"/><circle cx="0.125" cy="-0.46" r="0.05" fill="#000"/></g><text x="459.13" y="6.30" font-size="10.20">Hg</text><text x="472.26" y="0.00" font-size="16.80">(</text><text x="477.85" y="0.00" font-size="16.80" font-style="italic">r</text><text x="483.45" y="0.00" font-size="16.80">)</text><text x="489.04" y="0.00" font-size="16.80">,</text><text x="493.85" y="0.00" font-size="16.80">Constant</text><g transform="translate(568.19,0.00) scale(16.800,16.800) skewX(-23)" fill="none" stroke="#000" stroke-width="0.080"><ellipse cx="0.2" cy="-0.315" rx="0.2" ry="0.31"/><path d="M0.02,-0.325H0.38"/></g><text x="574.91" y="6.30" font-size="10.20">Hg</text></g>
<g transform="translate(0.00,85.70)" font-family="Liberation Sans" fill="#000"><g transform="translate(455.96,0.00) scale(15.600,15.600)"><path d="M0.52,-0.50 L0.03,0.20 M0.125,-0.46 C0.17,-0.38 0.22,-0.24 0.255,-0.12" fill="none" stroke="#000" stroke-width="0.080" stroke-linecap="round"/><circle cx="0.125" cy="-0.46" r="0.05" fill="#000"/></g><text x="461.73" y="6.30" font-size="10.20">Hg</text><text x="475.26" y="0.00" font-size="16.80">(</text><text x="480.85" y="0.00" font-size="16.80" font-style="italic">r</text><text x="486.45" y="0.00" font-size="16.80">)</text><text x="492.04" y="0.00" font-size="16.80">,</text><g transform="translate(498.79,0.00) scale(16.800,16.800) skewX(-23)" fill="none" stroke="#000" stroke-width="0.080"><ellipse cx="0.2" cy="-0.315" rx="0.2" ry="0.31"/><path d="M0.02,-0.325H0.38"/></g><text x="505.51" y="6.30" font-size="10.20">Hg</text><text x="519.16" y="0.00" font-size="16.80">(</text><text x="524.75" y="0.00" font-size="16.80" font-style="italic">r</text><text x="530.35" y="0.00" font-size="16.80">)</text></g>
<rect x="290.7" y="166.8" width="254.5" height="176.7" fill="#fff"/>
<g clip-path="url(#ci)" fill="none" stroke-linecap="round">
<path d="M291.21,322.54 L291.22,322.10 L291.22,321.66 L291.22,321.21 L291.23,320.77 L291.23,320.33 L291.24,319.88 L291.24,319.44 L291.24,319.00 L291.25,318.55 L291.25,318.11 L291.25,317.66 L291.26,317.22 L291.26,316.77 L291.27,316.33 L291.27,315.88 L291.27,315.43 L291.28,314.99 L291.28,314.54 L291.28,314.09 L291.29,313.65 L291.29,313.20 L291.29,312.75 L291.30,312.30 L291.30,311.86 L291.30,311.41 L291.30,310.96 L291.31,310.51 L291.31,310.06 L291.31,309.62 L291.32,309.17 L291.32,308.72 L291.32,308.27 L291.33,307.82 L291.33,307.37 L291.33,306.92 L291.33,306.47 L291.34,306.02 L291.34,305.57 L291.34,305.12 L291.35,304.67 L291.35,304.22 L291.35,303.77 L291.35,303.32 L291.36,302.87 L291.36,302.42 L291.36,301.97 L291.36,301.52 L291.37,301.07 L291.37,300.62 L291.37,300.17 L291.38,299.72 L291.38,299.27 L291.38,298.82 L291.38,298.37 L291.39,297.91 L291.39,297.46 L291.39,297.01 L291.40,296.56 L291.40,296.11 L291.40,295.66 L291.40,295.21 L291.41,294.76 L291.41,294.31 L291.41,293.86 L291.42,293.40 L291.42,292.95 L291.42,292.50 L291.42,292.05 L291.43,291.60 L291.43,291.15 L291.43,290.70 L291.44,290.25 L291.44,289.80 L291.44,289.35 L291.45,288.90 L291.45,288.45 L291.45,288.00 L291.46,287.55 L291.46,287.10 L291.46,286.65 L291.47,286.20 L291.47,285.75 L291.47,285.30 L291.48,284.85 L291.48,284.40 L291.48,283.95 L291.49,283.50 L291.49,283.05 L291.50,282.60 L291.50,282.15 L291.50,281.70 L291.51,281.25 L291.51,280.80 L291.52,280.35 L291.52,279.91 L291.52,279.46 L291.53,279.01 L291.53,278.56 L291.54,278.11 L291.54,277.67 L291.55,277.22 L291.55,276.77 L291.56,276.33 L291.56,275.88 L291.57,275.43 L291.57,274.99 L291.58,274.54 L291.58,274.09 L291.59,273.65 L291.59,273.20 L291.60,272.76 L291.60,272.31 L291.61,271.87 L291.61,271.42 L291.62,270.98 L291.62,270.54 L291.63,270.09 L291.63,269.65 L291.64,269.21 L291.65,268.76 L291.65,268.32 L291.66,267.88 L291.67,267.44 L291.67,266.99 L291.68,266.55 L291.68,266.11 L291.69,265.67 L291.70,265.23 L291.71,264.79 L291.71,264.35 L291.72,263.91 L291.73,263.47 L291.73,263.03 L291.74,262.60 L291.75,262.16 L291.76,261.72 L291.76,261.28 L291.77,260.84 L291.78,260.41 L291.79,259.97 L291.80,259.53 L291.80,259.10 L291.81,258.66 L291.82,258.23 L291.83,257.79 L291.84,257.35 L291.85,256.92 L291.86,256.48 L291.87,256.04 L291.88,255.61 L291.89,255.17 L291.90,254.74 L291.91,254.30 L291.92,253.86 L291.93,253.42 L291.94,252.99 L291.96,252.55 L291.97,252.11 L291.98,251.67 L291.99,251.24 L292.01,250.80 L292.02,250.36 L292.03,249.92 L292.05,249.48 L292.06,249.04 L292.08,248.60 L292.09,248.15 L292.11,247.71 L292.12,247.27 L292.14,246.83 L292.15,246.38 L292.17,245.94 L292.19,245.49 L292.20,245.05 L292.22,244.60 L292.24,244.16 L292.26,243.71 L292.28,243.27 L292.30,242.83 L292.32,242.39 L292.34,241.96 L292.36,241.53 L292.38,241.10 L292.40,240.68 L292.43,240.26 L292.45,239.84 L292.47,239.44 L292.50,239.04 L292.52,238.64 L292.55,238.26 L292.57,237.88 L292.60,237.51 L292.62,237.15 L292.65,236.79 L292.68,236.45 L292.71,236.11 L292.74,235.79 L292.77,235.47 L292.80,235.16 L292.83,234.85 L292.86,234.56 L292.89,234.27 L292.93,233.99 L292.96,233.72 L293.00,233.45 L293.04,233.19 L293.07,232.94 L293.11,232.70 L293.15,232.46 L293.20,232.23 L293.24,232.00 L293.28,231.78 L293.32,231.57 L293.37,231.36 L293.41,231.16 L293.46,230.96 L293.50,230.78 L293.55,230.59 L293.59,230.41 L293.64,230.24 L293.69,230.07 L293.74,229.91 L293.78,229.75 L293.83,229.59 L293.88,229.44 L293.92,229.30 L293.97,229.16 L294.02,229.02 L294.07,228.89 L294.12,228.76 L294.16,228.64 L294.21,228.52 L294.26,228.40 L294.31,228.28 L294.36,228.17 L294.41,228.07 L294.46,227.96 L294.50,227.86 L294.55,227.76 L294.60,227.66 L294.65,227.57 L294.70,227.48 L294.75,227.39 L294.80,227.30 L294.85,227.22 L294.90,227.13 L294.95,227.05 L294.99,226.97 L295.04,226.89 L295.09,226.82 L295.14,226.74 L295.19,226.66 L295.24,226.59 L295.29,226.52 L295.34,226.44 L295.39,226.37 L295.44,226.30 L295.49,226.23 L295.54,226.16 L295.59,226.09 L295.64,226.02 L295.69,225.95 L295.74,225.88 L295.79,225.81 L295.83,225.74 L295.88,225.67 L295.93,225.60 L295.98,225.53 L296.03,225.47 L296.08,225.40 L296.13,225.33 L296.18,225.27 L296.23,225.20 L296.28,225.14 L296.33,225.07 L296.38,225.01 L296.43,224.94 L296.48,224.88 L296.53,224.81 L296.58,224.75 L296.63,224.69 L296.68,224.62 L296.73,224.56 L296.78,224.50 L296.82,224.44 L296.87,224.38 L296.92,224.32 L296.97,224.26 L297.02,224.20 L297.07,224.14 L297.12,224.08 L297.17,224.02 L297.22,223.96 L297.27,223.90 L297.32,223.84 L297.37,223.79 L297.42,223.73 L297.47,223.67 L297.52,223.62 L297.57,223.56 L297.62,223.50 L297.67,223.45 L297.72,223.39 L297.77,223.34 L297.82,223.28 L297.87,223.23 L297.92,223.18 L297.96,223.12 L298.01,223.07 L298.06,223.02 L298.11,222.96 L298.16,222.91 L298.21,222.86 L298.26,222.81 L298.31,222.76 L298.36,222.70 L298.41,222.65 L298.46,222.60 L298.51,222.55 L298.56,222.50 L298.61,222.45 L298.66,222.41 L298.71,222.36 L298.76,222.31 L298.81,222.26 L298.86,222.21 L298.91,222.17 L298.96,222.12 L299.01,222.07 L299.06,222.02 L299.11,221.98 L299.16,221.93 L299.21,221.89 L299.25,221.84 L299.30,221.80 L299.35,221.75 L299.40,221.71 L299.45,221.66 L299.50,221.62 L299.55,221.58 L299.60,221.53 L299.65,221.49 L299.70,221.45 L299.75,221.40 L299.80,221.36 L299.85,221.32 L299.90,221.28 L299.95,221.24 L300.00,221.20 L300.05,221.16 L300.10,221.11 L300.15,221.07 L300.20,221.03 L300.25,221.00 L300.30,220.96 L300.35,220.92 L300.40,220.88 L300.45,220.84 L300.50,220.80 L300.55,220.76 L300.60,220.73 L300.65,220.69 L300.70,220.65 L300.75,220.61 L300.79,220.58 L300.84,220.54 L300.89,220.50 L300.94,220.47 L300.99,220.43 L301.04,220.40 L301.09,220.36 L301.14,220.33 L301.19,220.29 L301.24,220.26 L301.29,220.23 L301.34,220.19 L301.39,220.16 L301.44,220.12 L301.49,220.09 L301.54,220.06 L301.59,220.03 L301.64,219.99 L301.69,219.96 L301.74,219.93 L301.79,219.90 L301.84,219.87 L301.89,219.84 L301.94,219.81 L301.99,219.77 L302.04,219.74 L302.09,219.71 L302.14,219.68 L302.19,219.65 L302.24,219.63 L302.29,219.60 L302.34,219.57 L302.39,219.54 L302.44,219.51 L302.49,219.48 L302.54,219.45 L302.59,219.43 L302.64,219.40 L302.69,219.37 L302.73,219.34 L302.78,219.32 L302.83,219.29 L302.88,219.26 L302.93,219.24 L302.98,219.21 L303.03,219.18 L303.08,219.16 L303.13,219.13 L303.18,219.11 L303.23,219.08 L303.28,219.06 L303.33,219.03 L303.38,219.01 L303.43,218.98 L303.48,218.96 L303.53,218.94 L303.58,218.91 L303.63,218.89 L303.68,218.87 L303.73,218.84 L303.78,218.82 L303.83,218.80 L303.88,218.77 L303.93,218.75 L303.98,218.73 L304.03,218.71 L304.08,218.69 L304.13,218.67 L304.18,218.64 L304.23,218.62 L304.28,218.60 L304.33,218.58 L304.38,218.56 L304.43,218.54 L304.48,218.52 L304.53,218.50 L304.58,218.48 L304.63,218.46 L304.68,218.44 L304.73,218.42 L304.78,218.40 L304.83,218.38 L304.88,218.36 L304.93,218.34 L304.98,218.33 L305.03,218.31 L305.08,218.29 L305.13,218.27 L305.18,218.25 L305.23,218.24 L305.28,218.22 L305.33,218.20 L305.37,218.18 L305.42,218.17 L305.47,218.15 L305.52,218.13 L305.57,218.12 L305.62,218.10 L305.67,218.08 L305.72,218.07 L305.77,218.05 L305.82,218.03 L305.87,218.02 L305.92,218.00 L305.97,217.99 L306.02,217.97 L306.07,217.96 L306.12,217.94 L306.17,217.93 L306.22,217.91 L306.27,217.90 L306.32,217.88 L306.37,217.87 L306.42,217.85 L306.47,217.84 L306.52,217.83 L306.57,217.81 L306.62,217.80 L306.67,217.79 L306.72,217.77 L306.77,217.76 L306.82,217.75 L306.87,217.73 L306.92,217.72 L306.97,217.71 L307.02,217.69 L307.07,217.68 L307.12,217.67 L307.17,217.66 L307.22,217.64 L307.27,217.63 L307.32,217.62 L307.37,217.61 L307.42,217.60 L307.47,217.58 L307.52,217.57 L307.57,217.56 L307.62,217.55 L307.67,217.54 L307.72,217.53 L307.77,217.52 L307.82,217.51 L307.87,217.49 L307.92,217.48 L307.97,217.47 L308.02,217.46 L308.07,217.45 L308.12,217.44 L308.17,217.43 L308.22,217.42 L308.27,217.41 L308.32,217.40 L308.37,217.39 L308.42,217.38 L308.47,217.37 L308.52,217.36 L308.57,217.35 L308.62,217.34 L308.67,217.33 L308.72,217.32 L308.77,217.31 L308.82,217.31 L308.87,217.30 L308.92,217.29 L308.97,217.28 L309.02,217.27 L309.07,217.26 L309.12,217.25 L309.17,217.24 L309.22,217.23 L309.27,217.23 L309.32,217.22 L309.37,217.21 L309.42,217.20 L309.47,217.19 L309.52,217.18 L309.57,217.18 L309.61,217.17 L309.66,217.16 L309.71,217.15 L309.76,217.14 L309.81,217.14 L309.86,217.13 L309.91,217.12 L309.96,217.11 L310.01,217.10 L310.06,217.10 L310.11,217.09 L310.16,217.08 L310.21,217.07 L310.26,217.07 L310.31,217.06 L310.36,217.05 L310.41,217.04 L310.46,217.04 L310.51,217.03 L310.56,217.02 L310.61,217.01 L310.66,217.01 L310.71,217.00 L310.76,216.99 L310.81,216.99 L310.86,216.98 L310.91,216.97 L310.96,216.96 L311.01,216.96 L311.06,216.94 L312.08,216.76 L313.10,216.60 L314.11,216.44 L315.13,216.30 L316.15,216.17 L317.17,216.05 L318.19,215.93 L319.20,215.82 L320.22,215.72 L321.24,215.62 L322.26,215.53 L323.28,215.44 L324.29,215.36 L325.31,215.28 L326.33,215.20 L327.35,215.13 L328.37,215.06 L329.38,214.99 L330.40,214.93 L331.42,214.86 L332.44,214.80 L333.46,214.74 L334.47,214.69 L335.49,214.63 L336.51,214.58 L337.53,214.52 L338.55,214.47 L339.56,214.42 L340.58,214.37 L341.60,214.33 L346.69,214.20 L351.78,214.10 L356.87,214.02 L361.96,213.94 L367.05,213.88 L372.14,213.82 L377.23,213.77 L382.32,213.73 L387.41,213.69 L392.50,213.66 L397.59,213.62 L402.68,213.59 L407.77,213.57 L412.86,213.54 L417.95,213.52 L423.04,213.50 L428.13,213.48 L433.22,213.46 L438.31,213.45 L443.40,213.43 L448.49,213.42 L453.58,213.40 L458.67,213.39 L463.76,213.38 L468.85,213.37 L473.94,213.36 L479.03,213.35 L484.12,213.34 L489.21,213.33 L494.30,213.32 L499.39,213.31 L504.48,213.30 L509.57,213.30 L514.66,213.29 L519.75,213.28 L524.84,213.28 L529.93,213.27 L535.02,213.26 L540.11,213.26 L545.20,213.25" stroke="#ff0000" stroke-width="4.3" stroke-linecap="butt"/>
<path d="M292.15,212.75 H548.2" stroke="#0000f0" stroke-width="3.7" stroke-dasharray="6.3 10.3 0 10.6"/>
</g>
<g stroke="#000" stroke-width="1.5" fill="none">
<rect x="290.7" y="166.8" width="254.5" height="176.7"/>
<path d="M316.15,343.50v-2.80 M316.15,166.80v2.80 M341.60,343.50v-5.40 M341.60,166.80v5.40 M367.05,343.50v-2.80 M367.05,166.80v2.80 M392.50,343.50v-5.40 M392.50,166.80v5.40 M417.95,343.50v-2.80 M417.95,166.80v2.80 M443.40,343.50v-5.40 M443.40,166.80v5.40 M468.85,343.50v-2.80 M468.85,166.80v2.80 M494.30,343.50v-5.40 M494.30,166.80v5.40 M519.75,343.50v-2.80 M519.75,166.80v2.80 M290.70,314.05h2.80 M545.20,314.05h-2.80 M290.70,284.60h5.40 M545.20,284.60h-5.40 M290.70,255.15h2.80 M545.20,255.15h-2.80 M290.70,225.70h5.40 M545.20,225.70h-5.40 M290.70,196.25h2.80 M545.20,196.25h-2.80" stroke-linecap="round"/>
</g>
<g font-family="Liberation Sans" font-size="14" fill="#000">
<text x="261.34" y="348.10" font-size="13.70">200</text>
<text x="261.34" y="289.20" font-size="13.70">300</text>
<text x="261.34" y="230.30" font-size="13.70">400</text>
<text x="261.34" y="171.40" font-size="13.70">500</text>
<text x="287.09" y="361.30" font-size="13.70">0</text>
<path transform="translate(330.37,361.30) scale(0.00669,-0.00669)" d="M763 0H583V1147Q518 1085 412 1023Q306 961 222 930V1104Q373 1175 486 1276Q599 1377 646 1466H763Z"/><text x="337.99" y="361.30" font-size="13.70">00</text>
<text x="381.27" y="361.30" font-size="13.70">200</text>
<text x="432.17" y="361.30" font-size="13.70">300</text>
<text x="483.07" y="361.30" font-size="13.70">400</text>
<text x="533.97" y="361.30" font-size="13.70">500</text>
</g>
<text x="402.7" y="376.6" font-family="Liberation Sans" font-size="16"><tspan font-style="italic">r</tspan>,nm</text>
<g transform="translate(252.30,315.50) rotate(-90)" font-family="Liberation Sans" fill="#000"><text x="0.29" y="0.00" font-size="16.00">-</text><g transform="translate(6.12,0.00) scale(16.000,16.000)"><path d="M0.52,-0.50 L0.03,0.20 M0.125,-0.46 C0.17,-0.38 0.22,-0.24 0.255,-0.12" fill="none" stroke="#000" stroke-width="0.080" stroke-linecap="round"/><circle cx="0.125" cy="-0.46" r="0.05" fill="#000"/></g><text x="12.04" y="4.50" font-size="10.50">Hg</text><text x="26.06" y="0.00" font-size="16.00">cos</text><g transform="translate(50.96,0.00) scale(16.000,16.000) skewX(-23)" fill="none" stroke="#000" stroke-width="0.080"><ellipse cx="0.2" cy="-0.315" rx="0.2" ry="0.31"/><path d="M0.02,-0.325H0.38"/></g><text x="57.36" y="4.50" font-size="10.50">Hg</text><text x="70.78" y="0.00" font-size="16.00">,mN/m</text></g>
</svg>
</body></html>
